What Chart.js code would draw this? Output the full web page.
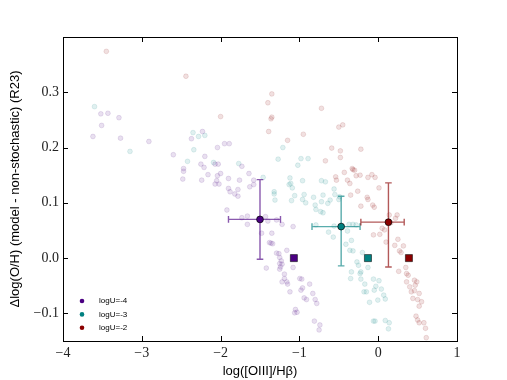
<!DOCTYPE html>
<html>
<head>
<meta charset="utf-8">
<script src="https://cdn.jsdelivr.net/npm/chart.js@4.4.1/dist/chart.umd.min.js"></script>
<style>
  html, body { margin: 0; padding: 0; background: #fff; }
  canvas { display: block; }
</style>
</head>
<body>
<canvas id="chart" width="507" height="380"></canvas>
<script>
// tick values
const xTicks = [-4, -3, -2, -1, 0, 1];
const yTicks = [-0.1, 0.0, 0.1, 0.2, 0.3];

// legend labels, one per ionisation parameter
const seriesLabels = ['logU=-4', 'logU=-3', 'logU=-2'];

// individual models, logU=-4
const u4X = [-3.52, -3.43, -3.29, -3.51, -3.62, -3.27, -2.91, -2.60, -2.23, -2.37, -2.20, -2.25, -2.21, -2.47, -2.47,
  -2.16, -2.48, -2.24, -2.04, -1.95, -1.89, -2.07, -2.03, -1.73, -2.00, -1.64, -2.04, -1.90, -1.76, -1.58, -2.05,
  -2.07, -2.02, -1.58, -1.63, -1.90, -1.78, -1.88, -1.82, -1.78, -1.92, -1.73, -1.66, -1.43, -1.66, -1.40, -1.29,
  -1.22, -1.08, -1.48, -1.35, -1.38, -1.34, -1.36, -1.16, -1.29, -1.26, -1.25, -1.42, -1.25, -1.22, -1.24, -1.25,
  -1.23, -1.08, -1.19, -1.19, -1.16, -1.15, -1.22, -0.995, -0.97, -0.87, -0.96, -0.98, -1.12, -0.83, -0.94, -0.91,
  -0.80, -0.78, -1.05, -1.03, -1.06, -0.81, -0.74, -0.75];
const u4Y = [0.261, 0.262, 0.254, 0.240, 0.220, 0.217, 0.211, 0.187, 0.229, 0.216, 0.184, 0.170, 0.164, 0.162, 0.157,
  0.151, 0.143, 0.141, 0.200, 0.207, 0.207, 0.170, 0.170, 0.166, 0.153, 0.153, 0.149, 0.144, 0.141, 0.141, 0.140,
  0.134, 0.134, 0.133, 0.129, 0.126, 0.124, 0.120, 0.116, 0.112, 0.087, 0.073, 0.076, 0.075, 0.061, 0.067, 0.069,
  0.061, 0.057, 0.045, 0.045, 0.028, 0.026, 0.027, 0.014, 0.009, 0.008, 0.001, -0.018, -0.010, -0.011, -0.016, -0.020,
  -0.005, -0.017, -0.029, -0.037, -0.043, -0.047, -0.043, -0.037, -0.038, -0.047, -0.054, -0.058, -0.061, -0.064, -0.072, -0.075,
  -0.075, -0.082, -0.093, -0.098, -0.099, -0.114, -0.121, -0.130];

// individual models, logU=-3
const u3X = [-3.60, -3.15, -2.35, -2.28, -2.20, -2.34, -2.42, -1.21, -2.09, -1.77, -1.27, -1.02, -1.46, -1.32, -1.32,
  -1.31, -1.12, -1.13, -1.09, -1.06, -1.10, -0.98, -0.89, -0.96, -1.11, -0.94, -0.96, -0.92, -0.82, -0.70, -0.61,
  -0.72, -0.67, -0.56, -0.55, -0.80, -0.79, -0.73, -0.70, -0.72, -0.64, -0.49, -0.50, -0.79, -0.63, -0.57, -0.56,
  -0.41, -0.32, -0.20, -0.37, -0.32, -0.28, -0.34, -0.39, -0.36, -0.27, -0.25, -0.22, -0.23, -0.35, -0.22, -0.13,
  -0.34, -0.17, -0.06, 0.01, -0.03, -0.05, 0.04, -0.18, -0.15, -0.11, -0.005, 0.07, 0.09, -0.06, -0.04, 0.09, 0.14, 0.13];
const u3Y = [0.274, 0.193, 0.227, 0.220, 0.222, 0.196, 0.175, 0.200, 0.173, 0.171, 0.179, 0.168, 0.146, 0.120, 0.116,
  0.105, 0.145, 0.133, 0.127, 0.113, 0.104, 0.180, 0.180, 0.140, 0.135, 0.115, 0.106, 0.100, 0.110, 0.114, 0.105,
  0.140, 0.138, 0.125, 0.115, 0.096, 0.088, 0.084, 0.082, 0.102, 0.099, 0.111, 0.106, 0.060, 0.047, 0.038, 0.058,
  0.025, 0.013, 0.010, 0.061, 0.061, 0.060, 0.032, 0.049, 0.014, -0.007, -0.013, -0.025, -0.028, -0.037, -0.038, -0.017,
  -0.025, -0.047, -0.038, -0.041, -0.051, -0.058, -0.056, -0.061, -0.061, -0.080, -0.076, -0.067, -0.074, -0.114, -0.114, -0.113, -0.117, -0.128];

// individual models, logU=-2
const u2X = [-3.45, -2.44, -2.00, -1.39, -1.15, -1.35, -1.40, -1.35, -1.36, -0.72, -0.95, -0.50, -0.45, -0.59, -0.48,
  -0.22, -0.48, -0.67, -0.33, -0.32, -0.54, -0.53, -0.43, -0.39, -0.36, -0.30, -0.28, -0.23, -0.26, -0.35, -0.13,
  -0.08, -0.04, -0.14, -0.13, 0.01, -0.22, -0.07, -0.05, 0.14, 0.22, 0.16, 0.24, 0.05, 0.08, -0.06, 0.02,
  0.10, 0.21, 0.25, 0.32, 0.27, 0.29, 0.26, 0.35, 0.36, 0.38, 0.36, 0.46, 0.49, 0.47, 0.40, 0.42,
  0.46, 0.52, 0.44, 0.50, 0.55, 0.52, 0.48, 0.50, 0.52, 0.58, 0.60, 0.61];
const u2Y = [0.374, 0.329, 0.256, 0.229, 0.213, 0.297, 0.281, 0.255, 0.252, 0.271, 0.224, 0.237, 0.241, 0.199, 0.194,
  0.197, 0.182, 0.176, 0.162, 0.160, 0.147, 0.141, 0.155, 0.141, 0.135, 0.159, 0.149, 0.150, 0.121, 0.114, 0.146,
  0.151, 0.146, 0.110, 0.106, 0.127, 0.094, 0.096, 0.092, 0.078, 0.072, 0.064, 0.078, 0.054, 0.051, 0.042, 0.043,
  0.029, 0.023, 0.034, 0.022, 0.013, 0.010, -0.024, -0.017, -0.028, -0.031, -0.043, -0.040, -0.043, -0.049, -0.052, -0.061,
  -0.059, -0.064, -0.073, -0.075, -0.079, -0.087, -0.105, -0.112, -0.117, -0.117, -0.127, -0.144];

// means with error bars (logU = -4, -3, -2)
const meanX = [-1.50, -0.47, 0.13];
const meanY = [0.070, 0.057, 0.065];
const xErrLow = [0.40, 0.37, 0.35];
const xErrHigh = [0.26, 0.24, 0.20];
const yErrLow = [0.072, 0.071, 0.081];
const yErrHigh = [0.072, 0.055, 0.071];

// non-stochastic reference values
const refX = [-1.07, -0.13, 0.39];
const refY = [0.0, 0.0, 0.0];

const colors = [[75, 0, 130], [0, 128, 128], [139, 0, 0]];
const rgba = (c, a) => `rgba(${c[0]},${c[1]},${c[2]},${a})`;
const toPoints = (xs, ys) => xs.map((v, i) => ({ x: v, y: ys[i] }));

const meanSets = seriesLabels.map((label, i) => ({
  label: label,
  data: [{ x: meanX[i], y: meanY[i] }],
  pointRadius: 3.4,
  pointBackgroundColor: rgba(colors[i], 1),
  pointBorderColor: '#000',
  pointBorderWidth: 0.7
}));

const refSets = colors.map((c, i) => ({
  label: 'ref' + i,
  data: [{ x: refX[i], y: refY[i] }],
  pointStyle: 'rect',
  pointRadius: 5,
  pointBackgroundColor: rgba(c, 1),
  pointBorderColor: 'rgba(0,0,0,0.75)',
  pointBorderWidth: 0.7
}));

const cloudSets = [[u4X, u4Y], [u3X, u3Y], [u2X, u2Y]].map((d, i) => ({
  label: 'models' + i,
  data: toPoints(d[0], d[1]),
  pointRadius: 2.4,
  pointBackgroundColor: rgba(colors[i], 0.12),
  pointBorderColor: rgba(colors[i], 0.2),
  pointBorderWidth: 0.6
}));

const errorBars = {
  id: 'errorBars',
  afterDatasetDraw(chart, args) {
    if (args.index !== 6) return;
    const ctx = chart.ctx;
    const xs = chart.scales.x, ys = chart.scales.y;
    const cap = 3.3;
    ctx.save();
    ctx.lineWidth = 1.4;
    for (let i = 0; i < meanX.length; i++) {
      ctx.strokeStyle = rgba(colors[i], 0.65);
      const px = xs.getPixelForValue(meanX[i]);
      const py = ys.getPixelForValue(meanY[i]);
      const x0 = xs.getPixelForValue(meanX[i] - xErrLow[i]);
      const x1 = xs.getPixelForValue(meanX[i] + xErrHigh[i]);
      const y0 = ys.getPixelForValue(meanY[i] - yErrLow[i]);
      const y1 = ys.getPixelForValue(meanY[i] + yErrHigh[i]);
      ctx.beginPath();
      ctx.moveTo(x0, py); ctx.lineTo(x1, py);
      ctx.moveTo(px, y0); ctx.lineTo(px, y1);
      ctx.moveTo(x0, py - cap); ctx.lineTo(x0, py + cap);
      ctx.moveTo(x1, py - cap); ctx.lineTo(x1, py + cap);
      ctx.moveTo(px - cap, y0); ctx.lineTo(px + cap, y0);
      ctx.moveTo(px - cap, y1); ctx.lineTo(px + cap, y1);
      ctx.stroke();
    }
    ctx.restore();
  }
};

const frame = {
  id: 'frame',
  afterDraw(chart) {
    const ctx = chart.ctx;
    const a = chart.chartArea;
    const xs = chart.scales.x, ys = chart.scales.y;
    const len = 5;
    ctx.save();
    ctx.strokeStyle = '#000';
    ctx.lineWidth = 1;
    ctx.beginPath();
    xTicks.forEach(v => {
      const p = Math.round(xs.getPixelForValue(v)) + 0.5;
      ctx.moveTo(p, a.bottom); ctx.lineTo(p, a.bottom - len);
      ctx.moveTo(p, a.top); ctx.lineTo(p, a.top + len);
    });
    yTicks.forEach(v => {
      const p = Math.round(ys.getPixelForValue(v)) + 0.5;
      ctx.moveTo(a.left, p); ctx.lineTo(a.left + len, p);
      ctx.moveTo(a.right, p); ctx.lineTo(a.right - len, p);
    });
    ctx.stroke();
    ctx.strokeRect(Math.round(a.left) + 0.5, Math.round(a.top) + 0.5,
      Math.round(a.right - a.left), Math.round(a.bottom - a.top));

    // legend, lower left inside the axes
    ctx.font = '8px "Liberation Sans", Arial, sans-serif';
    ctx.textBaseline = 'middle';
    seriesLabels.forEach((label, i) => {
      const ly = 301 + i * 13.4;
      ctx.beginPath();
      ctx.arc(82, ly, 2.3, 0, Math.PI * 2);
      ctx.fillStyle = rgba(colors[i], 1);
      ctx.fill();
      ctx.fillStyle = '#000';
      ctx.fillText(label, 99, ly);
    });
    ctx.restore();
  }
};

const fmt = (v, d) => (v < 0 ? '\u2212' : '') + Math.abs(v).toFixed(d);

new Chart(document.getElementById('chart'), {
  type: 'scatter',
  data: { datasets: [...meanSets, ...refSets, ...cloudSets] },
  options: {
    responsive: false,
    animation: false,
    devicePixelRatio: 1,
    layout: { padding: { top: 37, right: 50, left: 0, bottom: 0 } },
    plugins: { legend: { display: false }, tooltip: { enabled: false } },
    scales: {
      x: {
        type: 'linear',
        min: -4, max: 1,
        afterBuildTicks: s => { s.ticks = xTicks.map(v => ({ value: v })); },
        afterFit: s => { s.height = 39; },
        grid: { display: false, drawTicks: false },
        border: { display: false },
        ticks: {
          padding: 4,
          color: '#222',
          font: { family: '"Liberation Serif", serif', size: 14 },
          callback: v => fmt(v, 0)
        },
        title: {
          display: true,
          text: 'log([OIII]/H\u03B2)',
          color: '#000',
          padding: { top: 0, bottom: 1 },
          font: { family: '"Liberation Sans", Arial, sans-serif', size: 13 }
        }
      },
      y: {
        type: 'linear',
        min: -0.15, max: 0.4,
        afterBuildTicks: s => { s.ticks = yTicks.map(v => ({ value: v })); },
        afterFit: s => { s.width = 63; },
        grid: { display: false, drawTicks: false },
        border: { display: false },
        ticks: {
          padding: 4,
          color: '#222',
          font: { family: '"Liberation Serif", serif', size: 14 },
          callback: v => fmt(v, 1)
        },
        title: {
          display: true,
          text: '\u0394log(O/H) (model - non-stochastic) (R23)',
          color: '#000',
          padding: { top: 8, bottom: 0 },
          font: { family: '"Liberation Sans", Arial, sans-serif', size: 13 }
        }
      }
    }
  },
  plugins: [errorBars, frame]
});
</script>
</body>
</html>
